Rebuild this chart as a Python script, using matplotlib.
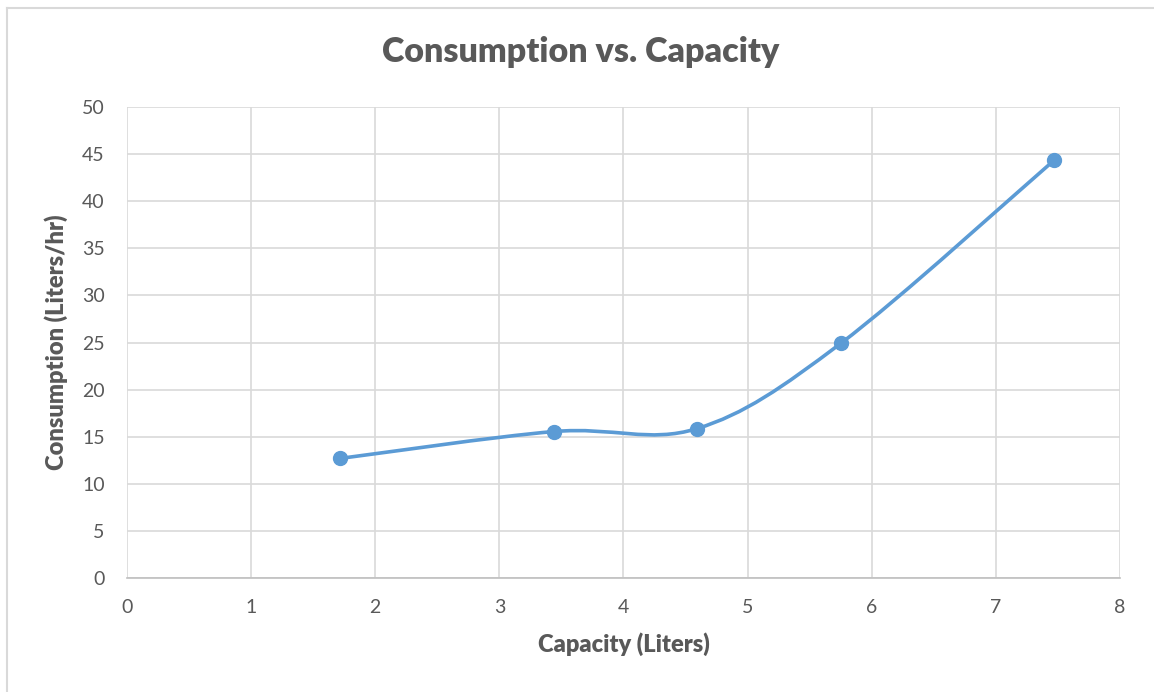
import numpy as np
import matplotlib.pyplot as plt
from matplotlib.path import Path
from matplotlib.patches import PathPatch
from matplotlib.lines import Line2D

capacity = [1.72, 3.44, 4.59, 5.75, 7.47]
consumption = [12.7, 15.55, 15.85, 24.9, 44.35]
x_ticks = [0, 1, 2, 3, 4, 5, 6, 7, 8]
y_ticks = [0, 5, 10, 15, 20, 25, 30, 35, 40, 45, 50]

LINE = '#5b9bd5'
TEXT = '#595959'
GRID = '#d9d9d9'

plt.rcParams['font.family'] = ['Lato', 'DejaVu Sans']


def smooth_path(xs, ys):
    # cubic bezier segments, control points at 1/6 of neighbour spread
    pts = np.column_stack([xs, ys])
    n = len(pts)
    verts = [pts[0]]
    codes = [Path.MOVETO]
    for i in range(n - 1):
        p0 = pts[i - 1] if i > 0 else pts[i]
        p1 = pts[i]
        p2 = pts[i + 1]
        p3 = pts[i + 2] if i + 2 < n else pts[i + 1]
        c1 = p1 + (p2 - p0) / 6.0
        c2 = p2 - (p3 - p1) / 6.0
        verts += [c1, c2, p2]
        codes += [Path.CURVE4] * 3
    return Path(verts, codes)


fig = plt.figure(figsize=(11.54, 6.92), dpi=100)
ax = fig.add_axes([0.110, 0.1647, 0.8605, 0.6807])

ax.add_patch(PathPatch(smooth_path(capacity, consumption), facecolor='none',
                       edgecolor=LINE, lw=2.6, capstyle='round', zorder=3))
ax.plot(capacity, consumption, 'o', color=LINE, ms=10, zorder=4)

ax.set_xlim(0, 8)
ax.set_ylim(0, 50)
ax.set_xticks(x_ticks)
ax.set_yticks(y_ticks)
ax.grid(True, color=GRID, lw=1.2)
ax.set_axisbelow(True)
for side in ['top', 'right', 'left']:
    ax.spines[side].set_visible(False)
ax.spines['bottom'].set_color('#bfbfbf')
ax.spines['bottom'].set_linewidth(1.2)
ax.tick_params(length=0, labelsize=14, labelcolor=TEXT)
ax.tick_params(axis='x', pad=15)
ax.tick_params(axis='y', pad=16)

fig.text(581 / 1154, 1 - 52 / 692, 'Consumption vs. Capacity', fontsize=24.5,
         fontweight='heavy', color=TEXT, ha='center', va='center')
ax.set_xlabel('Capacity (Liters)', fontsize=17, fontweight='heavy', color=TEXT,
              labelpad=12)
ax.set_ylabel('Consumption (Liters/hr)', fontsize=17, fontweight='heavy',
              color=TEXT, labelpad=10)

# chart area border
fig.add_artist(Line2D([7 / 1154, 7 / 1154], [1 - 8 / 692, 0], color=GRID, lw=1.5))
fig.add_artist(Line2D([7 / 1154, 1], [1 - 8 / 692, 1 - 8 / 692], color=GRID, lw=1.5))

fig.savefig('out.png', dpi=100)
